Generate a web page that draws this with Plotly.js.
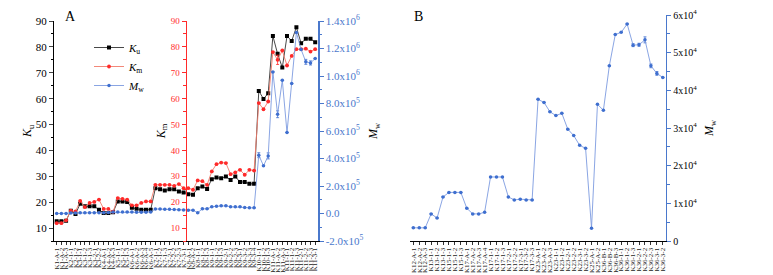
<!DOCTYPE html>
<html>
<head>
<meta charset="utf-8">
<script src="https://cdn.plot.ly/plotly-3.0.1.min.js"></script>
<style>html,body{margin:0;padding:0;background:#fff;}#chart{width:773px;height:275px;}</style>
</head>
<body>
<div id="chart"></div>
<script>
// ---------- Panel A data ----------
const labelsA = ["K1-A-1","K1-A-2","K1-A-3","K2-1-1","K2-1-2","K3-1-1","K3-1-2","K3-1-3","K3-2-1","K3-2-2",
"K4-A-1","K4-A-2","K4-A-3","K5-1-1","K5-1-2","K5-1-3","K6-A-1","K6-A-2","K6-A-3","K6-A-4",
"K6-A-5","K7-1-1","K7-1-2","K7-1-3","K7-2-1","K7-2-2","K7-2-3","K7-3-1","K8-A-1","K8-A-2",
"K8-1-1","K8-1-2","K8-1-3","K9-1-1","K9-1-2","K9-1-3","K9-2-1","K9-2-2","K9-2-3","K9-3-1",
"K9-3-2","K9-3-3","K9-3-4","K10-1-1","K10-1-2","K10-1-3","K11-A-1","K11-A-2","K11-A-3","K11-1-1",
"K11-1-2","K11-1-3","K11-2-1","K11-2-2","K11-2-3","K11-3-1"];
const kuA = [12.6,12.6,12.8,16.7,15.4,19.4,18.4,18.4,18.4,17.1,
15.8,15.8,16.1,20.3,20.3,20.1,17.8,17.5,17.1,17.1,
17.1,25.4,25.0,24.5,25.0,25.0,24.1,23.7,23.1,22.9,
25.4,26.1,25.1,28.9,29.5,29.2,29.9,28.6,29.9,27.8,
27.8,27.1,27.1,63.0,59.9,62.1,84.2,77.3,72.0,84.2,
82.3,87.6,81.4,83.1,83.1,81.8];
const kmA = [11.9,11.9,13.0,16.7,16.4,20.5,18.1,19.7,20.1,21.0,
17.4,17.4,16.3,21.6,21.3,21.0,18.8,18.8,19.7,20.3,
20.3,26.7,26.7,26.7,26.7,26.3,27.0,25.4,25.4,24.8,
28.4,28.1,26.7,31.9,34.7,35.3,35.1,30.8,31.5,32.5,
30.6,32.5,32.2,58.3,55.9,58.9,78.0,75.0,78.6,72.8,
76.5,79.1,79.1,79.3,78.2,79.1];
const kmErrA = [0,0,0,0,0,0,0,0,0,0, 0,0,0,0,0,0,0,0,0,0, 0,0,0,0,0,0,0,0,0,0,
0,0,0,0,0,0,0,0,0,0, 0,0,0,0,0,0,0,1.8,0,0, 0,0,0,0,0,0];
const mwA = [0,0,0,3000,4000,5000,5000,5000,6000,6000,
6000,7000,10000,10000,10000,11000,10000,9000,9000,9000,
10000,33000,32000,31000,30000,29000,27000,26000,24000,24000,
5000,34000,34000,48500,53000,55800,55800,48500,48500,48500,
43600,41200,41200,424000,347000,419000,1030000,722000,969000,589000,
945000,1316000,1193000,1103000,1095000,1127000];
const mwErrA = [0,0,0,0,0,0,0,0,0,0, 0,0,0,0,0,0,0,0,0,0, 0,0,0,0,0,0,0,0,0,0,
0,0,0,0,0,0,0,0,0,0, 0,0,0,18000,0,22000,0,25000,0,0, 0,0,0,18000,15000,0];

// ---------- Panel B data ----------
const labelsB = ["K12-A-1","K12-A-2","K12-A-3","K13-1-1","K13-1-2","K13-1-3","K15-1-1","K15-1-2","K15-1-3","K17-A-1",
"K17-A-2","K17-A-3","K17-A-4","K17-1-1","K17-1-2","K17-1-3","K17-2-1","K17-2-2","K17-3-1","K17-3-2",
"K17-3-3","K23-A-1","K23-A-2","K23-A-3","K23-1-1","K23-1-2","K23-2-1","K23-2-2","K23-3-1","K23-3-2",
"K25-A-1","K25-A-2","K36-B-1","K36-B-2","K36-B-3","K36-1-1","K36-1-2","K36-1-3","K36-2-1","K36-2-2",
"K36-2-3","K36-3-1","K36-3-2"];
const mwB = [3500,3500,3500,7200,6100,11700,12900,12900,12900,8700,
7200,7200,7600,17000,17000,17000,11700,10900,11100,10900,
10900,37600,36800,34300,33300,33900,29700,28000,25400,24600,
3400,36300,34700,46500,54800,55400,57600,52000,52100,53400,
46500,44500,43400];
const mwErrB = [0,0,0,0,0,0,0,0,0,0, 0,0,0,0,0,0,0,0,0,0, 0,0,0,0,0,0,0,0,0,0,
0,0,0,0,0,0,0,400,400,800, 500,500,0];

// ---------- tick labels ----------
const kTicks = [10,20,30,40,50,60,70,80,90];
const mwATickVals = [-200000,0,200000,400000,600000,800000,1000000,1200000,1400000];
const mwATickText = ["-2.0x10<sup>5</sup>","0.0","2.0x10<sup>5</sup>","4.0x10<sup>5</sup>","6.0x10<sup>5</sup>","8.0x10<sup>5</sup>","1.0x10<sup>6</sup>","1.2x10<sup>6</sup>","1.4x10<sup>6</sup>"];
const mwBTickVals = [0,10000,20000,30000,40000,50000,60000];
const mwBTickText = ["0","1x10<sup>4</sup>","2x10<sup>4</sup>","3x10<sup>4</sup>","4x10<sup>4</sup>","5x10<sup>4</sup>","6x10<sup>4</sup>"];

const W = 773, H = 275;
const FONT = "Liberation Serif, Times New Roman, serif";
const RED = "#ff2a2a", BLUE = "#3f6fcf", BLUEAX = "#4a78cc";

const traces = [
  {x: labelsA, y: kuA, name: "<i>K</i><sub>u</sub>", type: "scatter", mode: "lines+markers",
   xaxis: "x", yaxis: "y",
   line: {color: "#333333", width: 0.9}, marker: {color: "#000000", symbol: "square", size: 4}},
  {x: labelsA, y: kmA, name: "<i>K</i><sub>m</sub>", type: "scatter", mode: "lines+markers",
   xaxis: "x", yaxis: "y2",
   error_y: {type: "data", array: kmErrA, color: RED, thickness: 0.8, width: 1.5},
   line: {color: "#f27a6a", width: 0.9}, marker: {color: RED, symbol: "circle", size: 3.8}},
  {x: labelsA, y: mwA, name: "<i>M</i><sub>w</sub>", type: "scatter", mode: "lines+markers",
   xaxis: "x", yaxis: "y3",
   error_y: {type: "data", array: mwErrA, color: BLUE, thickness: 0.8, width: 1.5},
   line: {color: "#7d9be0", width: 0.9}, marker: {color: BLUE, symbol: "circle", size: 3.5}},
  {x: labelsB, y: mwB, name: "<i>M</i><sub>w</sub>", type: "scatter", mode: "lines+markers",
   xaxis: "x2", yaxis: "y4", showlegend: false,
   error_y: {type: "data", array: mwErrB, color: BLUE, thickness: 0.8, width: 1.5},
   line: {color: "#7d9be0", width: 0.9}, marker: {color: BLUE, symbol: "circle", size: 3.5}}
];

const xBase = {type: "category", showline: true, linecolor: "#000", linewidth: 1, ticks: "outside",
  ticklen: 3, tickwidth: 0.8, tickcolor: "#000", tickangle: -90, showgrid: false, zeroline: false,
  tickfont: {size: 7, color: "#222", family: FONT}, tickmode: "array"};

const yDomA = [(H - 241) / H, (H - 21) / H];
const yDomB = [(H - 241) / H, (H - 15) / H];

const layout = {
  width: W, height: H,
  margin: {l: 0, r: 0, t: 0, b: 0},
  paper_bgcolor: "#fff", plot_bgcolor: "rgba(0,0,0,0)",
  font: {family: FONT, color: "#000", size: 11},
  showlegend: true,
  legend: {x: 89 / W, y: (H - 33) / H, xanchor: "left", yanchor: "top", bgcolor: "rgba(0,0,0,0)",
    font: {size: 11, family: FONT}, tracegroupgap: 0, itemwidth: 30},
  xaxis: Object.assign({}, xBase, {domain: [54 / W, 318.3 / W], anchor: "y", range: [-0.57, 55.66],
    tickvals: labelsA, ticktext: labelsA}),
  xaxis2: Object.assign({}, xBase, {domain: [410 / W, 666 / W], anchor: "y4", range: [-0.56, 42.54],
    tickvals: labelsB, ticktext: labelsB}),
  yaxis: {domain: yDomA, anchor: "x", range: [5, 90], tickmode: "array", tickvals: kTicks,
    showline: true, linecolor: "#000", linewidth: 1, ticks: "outside", ticklen: 4, tickwidth: 1,
    minor: {tickmode: "linear", tick0: 5, dtick: 10, ticks: "outside", ticklen: 2.5, tickcolor: "#000"},
    showgrid: false, zeroline: false, tickfont: {size: 11, family: FONT},
    title: {text: "<i>K</i><sub>u</sub>", standoff: 0, font: {size: 12, family: FONT}}},
  yaxis2: {overlaying: "y", anchor: "free", position: 185.5 / W, side: "left", range: [5, 90],
    tickmode: "array", tickvals: kTicks,
    showline: true, linecolor: RED, linewidth: 1.2, ticks: "outside", ticklen: 4, tickwidth: 1, tickcolor: RED,
    minor: {tickmode: "linear", tick0: 5, dtick: 10, ticks: "outside", ticklen: 3, tickcolor: RED},
    showgrid: false, zeroline: false, tickfont: {size: 9, color: RED, family: FONT},
    title: {text: "<i>K</i><sub>m</sub>", standoff: 1, font: {size: 12, color: "#000", family: FONT}}},
  yaxis5: {overlaying: "y", anchor: "free", position: 185.5 / W, side: "right", range: [5, 90],
    tickmode: "array", tickvals: kTicks, showticklabels: false,
    showline: false, ticks: "outside", ticklen: 4, tickwidth: 1, tickcolor: RED,
    minor: {tickmode: "linear", tick0: 5, dtick: 10, ticks: "outside", ticklen: 3, tickcolor: RED},
    showgrid: false, zeroline: false},
  yaxis3: {overlaying: "y", anchor: "x", side: "right", range: [-200000, 1400000],
    tickmode: "array", tickvals: mwATickVals, ticktext: mwATickText,
    showline: true, linecolor: BLUEAX, linewidth: 1.2, ticks: "outside", ticklen: 4, tickwidth: 1, tickcolor: BLUEAX,
    minor: {tickmode: "linear", tick0: -100000, dtick: 200000, ticks: "outside", ticklen: 2.5, tickcolor: BLUEAX},
    showgrid: false, zeroline: false, tickfont: {size: 11, color: BLUEAX, family: FONT},
    title: {text: "<i>M</i><sub>w</sub>", standoff: 6, font: {size: 12, color: "#000", family: FONT}}},
  yaxis4: {domain: yDomB, anchor: "x2", side: "right", range: [0, 60000],
    tickmode: "array", tickvals: mwBTickVals, ticktext: mwBTickText,
    showline: true, linecolor: BLUEAX, linewidth: 1.2, ticks: "outside", ticklen: 4, tickwidth: 1, tickcolor: BLUEAX,
    minor: {tickmode: "linear", tick0: 5000, dtick: 10000, ticks: "outside", ticklen: 2.5, tickcolor: BLUEAX},
    showgrid: false, zeroline: false, tickfont: {size: 10, color: "#000", family: FONT},
    title: {text: "<i>M</i><sub>w</sub>", standoff: 8, font: {size: 12, color: "#000", family: FONT}}},
  annotations: [
    {text: "A", x: 70 / W, y: (H - 17) / H, xref: "paper", yref: "paper", showarrow: false,
     font: {size: 14, family: FONT}, xanchor: "center", yanchor: "middle"},
    {text: "B", x: 418 / W, y: (H - 17) / H, xref: "paper", yref: "paper", showarrow: false,
     font: {size: 14, family: FONT}, xanchor: "center", yanchor: "middle"}
  ]
};

Plotly.newPlot("chart", traces, layout, {staticPlot: true, displayModeBar: false});
</script>
</body>
</html>
